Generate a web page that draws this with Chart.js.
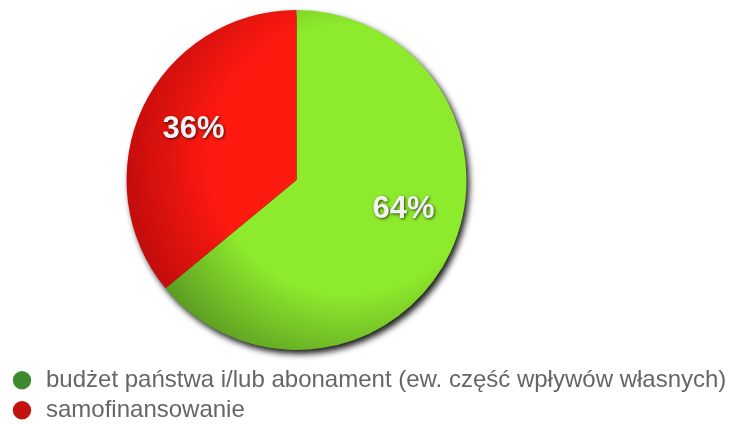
<!DOCTYPE html>
<html lang="pl">
<head>
<meta charset="utf-8">
<title>Źródła finansowania</title>
<script src="https://cdn.jsdelivr.net/npm/chart.js@4.4.0/dist/chart.umd.min.js"></script>
<style>
  html, body { margin: 0; padding: 0; background: #fff; }
  canvas { display: block; }
</style>
</head>
<body>
<canvas id="wykres" width="743" height="424"></canvas>
<script>
// dane wykresu
var etykiety = ["budżet państwa i/lub abonament (ew. część wpływów własnych)", "samofinansowanie"];
var udzialy = [64, 36];

// kolory wycinków (środek / krawędź) i kropek w legendzie
var kolorySrodek = ["#8eea2c", "#ff1a10"];
var koloryKrawedz = ["#5a9a22", "#c20c0c"];
var koloryLegendy = ["#3f8a2f", "#c3130f"];

var czcionka = '"Liberation Sans", Arial, Helvetica, sans-serif';
var szerokoscKola = 585;

// cieniowanie wycinka - gradient radialny ze światłem z prawej u góry
function gradientWycinka(context) {
    var chart = context.chart;
    var i = context.dataIndex;
    var a = chart.chartArea;
    if (!a) {
        return kolorySrodek[i];
    }
    var cx = (a.left + a.right) / 2;
    var cy = (a.top + a.bottom) / 2;
    var r = Math.min(a.right - a.left, a.bottom - a.top) / 2;
    var lx = cx + r * 0.3;
    var ly = cy - r * 0.12;
    var g = chart.ctx.createRadialGradient(lx, ly, 0, lx, ly, r * 1.32);
    g.addColorStop(0, kolorySrodek[i]);
    g.addColorStop(0.6, kolorySrodek[i]);
    g.addColorStop(1, koloryKrawedz[i]);
    return g;
}

// koło po lewej, legenda na całą szerokość
var obszarPlugin = {
    id: 'obszar',
    afterLayout: function (chart) {
        var a = chart.chartArea;
        a.right = a.left + szerokoscKola;
        a.width = szerokoscKola;
    }
};

// cień pod kołem
var cienPlugin = {
    id: 'cien',
    beforeDatasetsDraw: function (chart) {
        var arc = chart.getDatasetMeta(0).data[0];
        if (!arc) return;
        var ctx = chart.ctx;
        ctx.save();
        ctx.filter = 'blur(3px)';
        ctx.fillStyle = 'rgba(0,0,0,0.9)';
        ctx.beginPath();
        ctx.arc(arc.x + 3, arc.y + 4, arc.outerRadius, 0, Math.PI * 2);
        ctx.fill();
        ctx.restore();
    }
};

// napisy z procentami na wycinkach
var procentyPlugin = {
    id: 'procenty',
    afterDatasetsDraw: function (chart, args, opts) {
        var ctx = chart.ctx;
        var meta = chart.getDatasetMeta(0);
        meta.data.forEach(function (arc, i) {
            var p = arc.getProps(['x', 'y', 'startAngle', 'endAngle', 'outerRadius'], true);
            var kat = (p.startAngle + p.endAngle) / 2;
            var d = p.outerRadius * opts.odleglosc;
            var x = p.x + Math.cos(kat) * d + opts.przesuniecia[i][0];
            var y = p.y + Math.sin(kat) * d + opts.przesuniecia[i][1];
            ctx.save();
            ctx.font = 'bold 31px ' + czcionka;
            ctx.textAlign = 'center';
            ctx.textBaseline = 'middle';
            ctx.shadowColor = 'rgba(0,0,0,0.7)';
            ctx.shadowBlur = 3;
            ctx.shadowOffsetX = 1;
            ctx.shadowOffsetY = 1;
            ctx.fillStyle = '#f2f2f2';
            ctx.fillText(udzialy[i] + '%', x, y);
            ctx.restore();
        });
    }
};

var ctxP = document.getElementById("wykres").getContext('2d');
var wykres = new Chart(ctxP, {
    type: 'pie',
    data: {
        labels: etykiety,
        datasets: [{
            data: udzialy,
            backgroundColor: gradientWycinka,
            borderWidth: 0,
            hoverOffset: 0
        }]
    },
    options: {
        responsive: false,
        animation: false,
        layout: {
            padding: { top: 10, left: 4, right: 0, bottom: 0 }
        },
        plugins: {
            tooltip: { enabled: false },
            legend: {
                position: 'bottom',
                align: 'start',
                maxHeight: 74,
                title: { display: true, text: ' ', font: { size: 1 }, padding: { top: 11, bottom: 0 } },
                labels: {
                    usePointStyle: true,
                    pointStyle: 'circle',
                    boxWidth: 24,
                    boxHeight: 13,
                    padding: 6,
                    color: '#4d4d4d',
                    font: { family: czcionka, size: 24 },
                    generateLabels: function (chart) {
                        return etykiety.map(function (t, i) {
                            return {
                                text: t,
                                fillStyle: koloryLegendy[i],
                                strokeStyle: koloryLegendy[i],
                                lineWidth: 0,
                                pointStyle: 'circle',
                                hidden: false,
                                index: i,
                                datasetIndex: 0
                            };
                        });
                    }
                }
            },
            procenty: {
                odleglosc: 0.67,
                przesuniecia: [[4, -19], [0, -2]]
            }
        }
    },
    plugins: [obszarPlugin, cienPlugin, procentyPlugin]
});
</script>
</body>
</html>
